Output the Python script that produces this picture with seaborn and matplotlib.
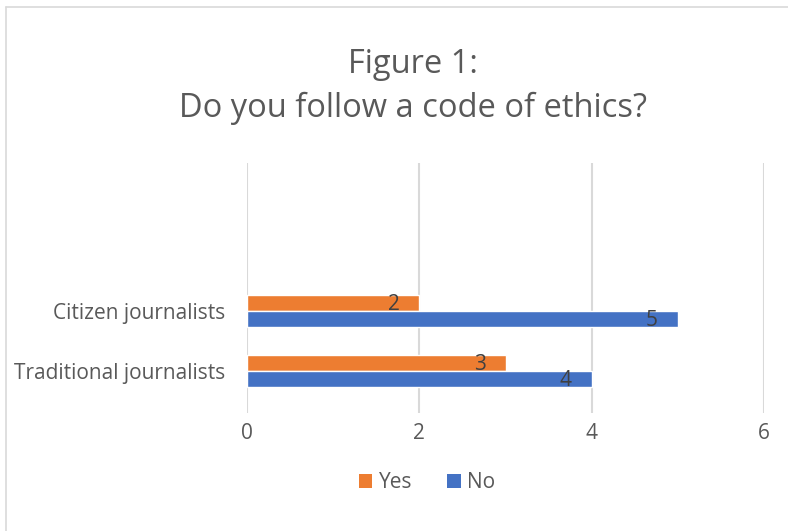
import matplotlib
matplotlib.use("Agg")
import matplotlib.pyplot as plt
import seaborn as sns
import pandas as pd
from matplotlib.lines import Line2D
from matplotlib.patches import Patch

categories = ["Citizen journalists", "Traditional journalists"]
yes_values = [2, 3]
no_values = [5, 4]
series = ["Yes", "No"]
xticks = [0, 2, 4, 6]

df = pd.DataFrame({
    "category": categories * 2,
    "answer": ["Yes"] * len(categories) + ["No"] * len(categories),
    "value": yes_values + no_values,
})

sns.set_theme(style="white")
FONT = "Open Sans"
plt.rcParams["font.family"] = [FONT, "DejaVu Sans"]

colors = {"Yes": "#ED7D31", "No": "#4472C4"}
text_color = "#595959"
FS = 15

fig = plt.figure(figsize=(7.88, 5.31), dpi=100)
ax = fig.add_axes([247 / 788, 1 - 413 / 531, (764 - 247) / 788, (413 - 163) / 531])

sns.barplot(data=df, y="category", x="value", hue="answer", order=categories,
            hue_order=series, palette=colors, orient="h", width=0.52,
            ax=ax, legend=False, saturation=1)

ax.set_xlim(0, 6)
ax.set_ylim(1.70, -2.47)
ax.set_xticks(xticks)
ax.set_xticklabels([str(t) for t in xticks], fontsize=FS, color=text_color)
ax.tick_params(axis="x", length=0, pad=7)
ax.tick_params(axis="y", length=0, pad=16)
for lbl in ax.get_yticklabels():
    lbl.set_fontsize(FS)
    lbl.set_color(text_color)
ax.set_xlabel("")
ax.set_ylabel("")
ax.grid(axis="x", color="#D9D9D9", linewidth=1.5)
ax.set_axisbelow(True)
for s in ax.spines.values():
    s.set_visible(False)

for container in ax.containers:
    for bar in container:
        w = bar.get_width()
        yc = bar.get_y() + bar.get_height() / 2
        ax.text(w - 0.30, yc + 0.02, f"{w:g}", ha="center", va="center",
                fontsize=FS, color="#404040")

fig.suptitle("Figure 1:\nDo you follow a code of ethics?", y=1 - 48 / 531,
             va="top", x=413 / 788, fontsize=23.5, color=text_color,
             linespacing=1.42)

handles = [Patch(facecolor=colors[s], edgecolor="none") for s in series]
fig.legend(handles, series, loc="center", bbox_to_anchor=(427 / 788, 1 - 483 / 531),
           ncol=2, frameon=False, fontsize=FS, labelcolor=text_color,
           handlelength=0.65, handleheight=0.65, columnspacing=1.7, handletextpad=0.3)

border = "#D9D9D9"
fig.add_artist(Line2D([6 / 788, 6 / 788], [0, 1 - 7 / 531], transform=fig.transFigure,
                      color=border, linewidth=1.2))
fig.add_artist(Line2D([6 / 788, 1], [1 - 7 / 531, 1 - 7 / 531], transform=fig.transFigure,
                      color=border, linewidth=1.2))

fig.savefig("out.png", dpi=100)
